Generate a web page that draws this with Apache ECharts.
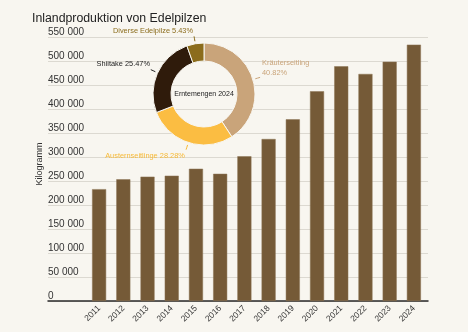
<!DOCTYPE html>
<html>
<head>
<meta charset="utf-8">
<script src="https://cdn.jsdelivr.net/npm/echarts@6/dist/echarts.min.js"></script>
<style>
  html, body { margin: 0; padding: 0; background: #f8f6f0; }
  #chart { width: 468px; height: 332px; }
</style>
</head>
<body>
<div id="chart"></div>
<script>
// Jährliche Inlandproduktion (kg)
const years = ['2011','2012','2013','2014','2015','2016','2017','2018','2019','2020','2021','2022','2023','2024'];
const production = [233000, 253500, 259000, 261000, 275500, 265000, 301500, 337500, 378500, 437000, 489000, 473000, 498500, 534000];

// Anteile der Erntemengen 2024 (%)
const speciesNames = ['Kräuterseitling', 'Austernseitlinge', 'Shiitake', 'Diverse Edelpilze'];
const speciesShares = [40.82, 28.28, 25.47, 5.43];
const speciesColors = ['#c9a47a', '#fbbd42', '#2f1b0b', '#8b6c1c'];
const speciesLabelColors = ['#c9a47a', '#f7b935', '#222222', '#8b6c1c'];

const FONT = '"Liberation Sans", Arial, sans-serif';
const fmt = v => String(v).replace(/\B(?=(\d{3})+(?!\d))/g, ' ');

// Label placement around the donut
const pieLabelSpots = [
  { x: 262, y: 68, align: 'left' },
  { x: 145, y: 156, align: 'center' },
  { x: 150, y: 64, align: 'right' },
  { x: 153, y: 31, align: 'center' }
];

// Short detached tick pointing outwards from the ring edge
function stubPoints(pts) {
  if (!pts || pts.length < 2) return pts;
  const p0 = pts[0], p1 = pts[1];
  const dx = p1[0] - p0[0], dy = p1[1] - p0[1];
  const len = Math.sqrt(dx * dx + dy * dy) || 1;
  const ux = dx / len, uy = dy / len;
  const at = d => [p0[0] + ux * d, p0[1] + uy * d];
  return [at(2.5), at(5), at(7.5)];
}

const chart = echarts.init(document.getElementById('chart'), null, { renderer: 'canvas' });

chart.setOption({
  backgroundColor: '#f8f6f0',
  animation: false,
  textStyle: { fontFamily: FONT },
  title: {
    text: 'Inlandproduktion von Edelpilzen',
    left: 27, top: 8,
    textStyle: { fontFamily: FONT, fontSize: 12.3, fontWeight: 'normal', color: '#222' }
  },
  graphic: [{
    type: 'text', x: 40, y: 164, rotation: Math.PI / 2,
    style: { text: 'Kilogramm', fontSize: 9, fontFamily: FONT, fill: '#333', align: 'center', verticalAlign: 'middle' }
  }],
  grid: [
    { left: 48, right: 40, top: 37, bottom: 31 },
    { left: 87, right: 42, top: 37, bottom: 31 }
  ],
  xAxis: [
    {
      gridIndex: 0, type: 'value', min: 0, max: 1,
      axisLine: { show: true, onZero: false, lineStyle: { color: '#2a2a2a', width: 1.5 } },
      axisTick: { show: false }, axisLabel: { show: false }, splitLine: { show: false }
    },
    {
      gridIndex: 1, type: 'category', data: years,
      axisLine: { show: false }, axisTick: { show: false },
      axisLabel: { rotate: 45, fontSize: 8.5, color: '#333', margin: 6, fontFamily: FONT }
    }
  ],
  yAxis: [
    {
      gridIndex: 0, type: 'value', min: 0, max: 550000, interval: 50000,
      axisLine: { show: false }, axisTick: { show: false },
      axisLabel: {
        inside: true, margin: 0, align: 'left', verticalAlign: 'bottom', padding: [0, 0, 0, 0],
        fontSize: 10, color: '#333', fontFamily: FONT, formatter: fmt
      },
      splitLine: { lineStyle: { color: '#dcd9d1', width: 1 } }
    },
    {
      gridIndex: 1, type: 'value', min: 0, max: 550000, interval: 50000, show: false,
      splitLine: { show: false }
    }
  ],
  series: [
    {
      type: 'bar', xAxisIndex: 1, yAxisIndex: 1, data: production,
      barWidth: '58%',
      itemStyle: { color: '#755a37', borderColor: '#8d7454', borderWidth: 0.5 }
    },
    {
      type: 'pie', center: [204, 94], radius: [33, 51],
      startAngle: 90, clockwise: true,
      data: speciesNames.map((n, i) => ({
        name: n, value: speciesShares[i],
        itemStyle: { color: speciesColors[i] },
        label: { color: speciesLabelColors[i] },
        labelLine: { lineStyle: { color: speciesLabelColors[i] } }
      })),
      itemStyle: { borderColor: '#f8f6f0', borderWidth: 1 },
      label: {
        show: true, position: 'outside', fontSize: 7.4, fontFamily: FONT, lineHeight: 10,
        formatter: p => p.dataIndex === 0 ? p.name + '\n' + p.value.toFixed(2) + '%' : p.name + ' ' + p.value.toFixed(2) + '%'
      },
      labelLine: { show: true, length: 6, length2: 4, smooth: false, lineStyle: { width: 1 } },
      labelLayout: p => Object.assign(
        { verticalAlign: 'middle', labelLinePoints: stubPoints(p.labelLinePoints) },
        pieLabelSpots[p.dataIndex]
      ),
      emphasis: { disabled: true }
    },
    {
      type: 'pie', center: [204, 94], radius: [0, 0], silent: true,
      data: [{ value: 1, name: 'Erntemengen 2024' }],
      label: { show: true, position: 'center', fontSize: 7, color: '#222', fontFamily: FONT },
      labelLine: { show: false }
    }
  ]
});
</script>
</body>
</html>
